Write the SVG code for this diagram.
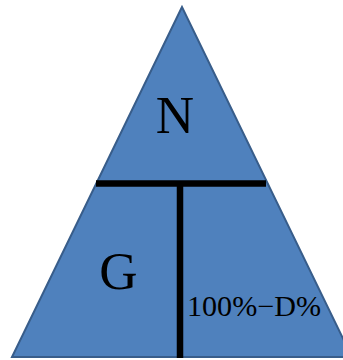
<svg xmlns="http://www.w3.org/2000/svg" width="343" height="360" viewBox="0 0 343 360">
<style>
.lbl{font-family:"Liberation Serif","Times New Roman",serif;fill:#000}
.bar{stroke:#000;stroke-width:6.5;fill:none}
</style>
<rect width="343" height="360" fill="#fff"/>
<g id="triangle">
<polygon points="182,7 12,357 352,357" fill="#4F81BD" stroke="#385D8A" stroke-width="2"/>
</g>
<g id="connectors">
<line class="bar" x1="96" y1="183.5" x2="266" y2="183.5"/>
<line class="bar" x1="180" y1="183.5" x2="180" y2="358"/>
</g>
<g id="node-N"><text class="lbl" x="175" y="133" font-size="53" text-anchor="middle">N</text></g>
<g id="node-G"><text class="lbl" x="118.5" y="289" font-size="53" text-anchor="middle">G</text></g>
<g id="node-D"><text class="lbl" x="187" y="316" font-size="29" textLength="134" lengthAdjust="spacingAndGlyphs">100%−D%</text></g>
</svg>
